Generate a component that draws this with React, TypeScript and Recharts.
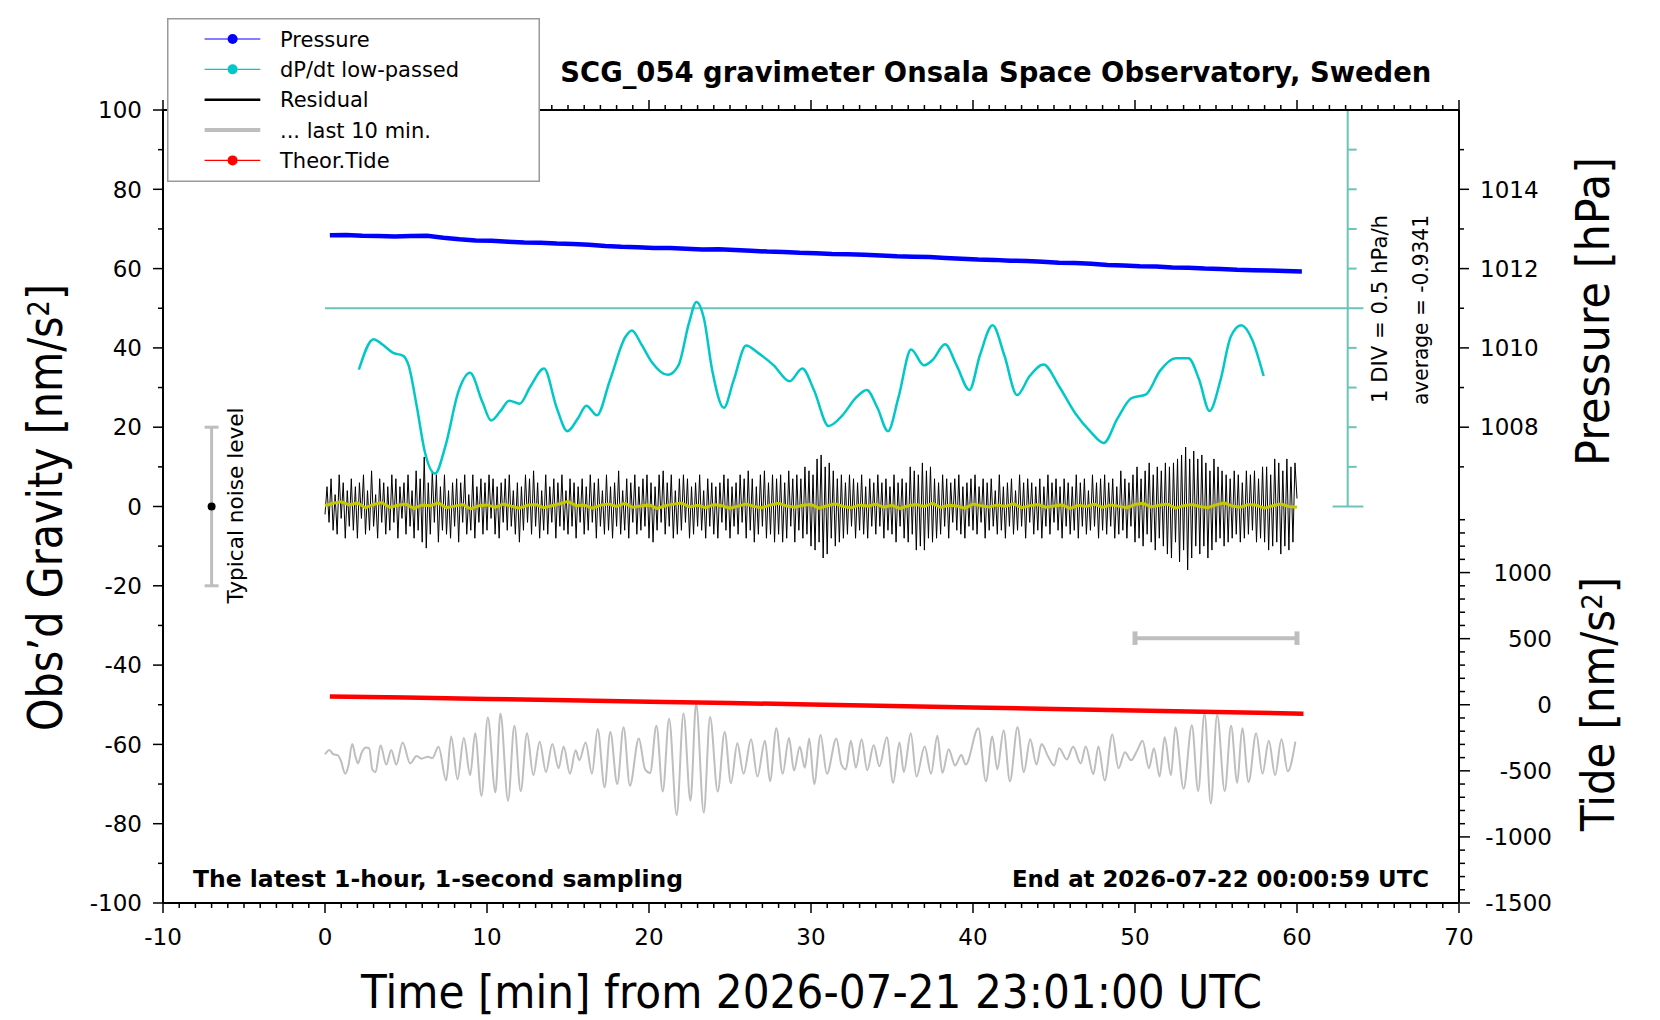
import React from "react";
import {
  LineChart,
  Line,
  XAxis,
  YAxis,
  ReferenceLine,
  ReferenceDot,
  Legend,
} from "recharts";

const FONT = '"DejaVu Sans", Verdana, sans-serif';

// axis ticks
const timeTicks = Array.from({ length: 81 }, (_, i) => i - 10);
const gravityTicks = Array.from({ length: 21 }, (_, i) => -100 + i * 10);
const pressureTicks = [1007, 1008, 1009, 1010, 1011, 1012, 1013, 1014, 1015];
const tideTicks = Array.from({ length: 30 }, (_, i) => -1500 + i * 100);

// pressure [hPa], one value per minute starting at 0.3 min
const pressureStart = 0.3;
const pressureHpa = [
  1012.84, 1012.85, 1012.83, 1012.82, 1012.81, 1012.82, 1012.83, 1012.78, 1012.74, 1012.71,
  1012.7, 1012.68, 1012.66, 1012.65, 1012.63, 1012.62, 1012.6, 1012.57, 1012.55, 1012.54,
  1012.52, 1012.52, 1012.5, 1012.48, 1012.49, 1012.47, 1012.45, 1012.43, 1012.42, 1012.4,
  1012.39, 1012.37, 1012.36, 1012.35, 1012.33, 1012.31, 1012.3, 1012.29, 1012.27, 1012.25,
  1012.23, 1012.22, 1012.2, 1012.19, 1012.17, 1012.15, 1012.14, 1012.12, 1012.09, 1012.08,
  1012.06, 1012.05, 1012.03, 1012.02, 1012.0, 1011.99, 1011.97, 1011.96, 1011.95, 1011.94,
  1011.93,
];

// theoretical tide [nm/s^2]
const tideT = [0.3, 5, 10, 15, 20, 25, 30, 35, 40, 45, 50, 55, 60.4];
const tideNms2 = [63, 54, 44, 34, 23, 13, 2, -9, -20, -32, -43, -55, -68];

// dP/dt low-passed [hPa/h]
const dpdtAverage = -0.9341;
const dpdtDiv = 0.5;
const dpdtT = [
  2.09, 3.0, 3.53, 4.18, 4.83, 5.16, 5.68, 6.14, 6.79, 7.45, 8.23, 8.95, 9.73, 10.25, 10.84,
  11.37, 12.02, 12.67, 13.52, 14.3, 14.96, 15.61, 16.13, 16.79, 17.57, 18.55, 18.94, 19.53,
  20.18, 21.16, 21.82, 22.47, 22.93, 23.38, 23.91, 24.62, 25.21, 26.0, 26.71, 27.7, 28.68,
  29.46, 30.18, 31.09, 31.94, 32.79, 33.44, 34.1, 34.75, 35.4, 36.18, 36.97, 37.49, 38.28,
  38.99, 39.78, 40.43, 41.21, 41.93, 42.72, 43.5, 44.35, 45.33, 46.31, 47.29, 48.07, 48.92,
  49.77, 50.69, 51.54, 52.51, 53.3, 53.95, 54.6, 55.26, 55.91, 56.56, 57.22, 57.94,
];
const dpdtHpaH = [
  -1.709, -1.324, -1.389, -1.494, -1.534, -1.654, -2.189, -2.724, -3.019, -2.659, -1.989,
  -1.749, -2.124, -2.349, -2.229, -2.099, -2.139, -1.924, -1.694, -2.189, -2.484, -2.324,
  -2.164, -2.284, -1.854, -1.294, -1.214, -1.389, -1.614, -1.774, -1.654, -1.119, -0.854,
  -1.054, -1.724, -2.189, -1.854, -1.404, -1.494, -1.654, -1.854, -1.694, -1.964, -2.419,
  -2.284, -2.059, -1.964, -2.189, -2.484, -2.059, -1.454, -1.654, -1.589, -1.389, -1.654,
  -1.964, -1.524, -1.149, -1.524, -2.029, -1.789, -1.644, -1.924, -2.259, -2.499, -2.634,
  -2.324, -2.069, -2.019, -1.724, -1.564, -1.564, -1.829, -2.229, -1.854, -1.294, -1.149,
  -1.324, -1.789,
];

// residual [nm/s^2], every 7.5 s (one row = 2 min)
const residualStep = 0.125;
const residual = [
  -2, 5, -4, 7, -6, 3, -7, 8, -3, 6, -8, 4, -5, 7, -6, 5,
  -8, 6, -3, 8, -7, 4, -6, 9, -5, 3, -8, 7, -4, 6, -7, 5,
  -6, 8, -4, 7, -8, 5, -3, 6, -7, 8, -5, 4, -8, 9, -6, 7,
  -9, 12.5, -10.5, 6, -7, 9, -4, 8, -9, 5, -6, 8, -7, 4, -8, 6,
  -5, 7, -9, 6, -4, 8, -7, 3, -6, 8, -8, 5, -4, 7, -7, 6,
  -6, 8, -3, 7, -7, 5, -8, 6, -4, 7, -6, 8, -5, 4, -7, 6,
  -9, 5, -6, 8, -4, 7, -7, 9, -5, 6, -8, 4, -6, 8, -7, 5,
  -4, 7, -8, 6, -5, 8, -6, 4, -7, 7, -5, 6, -8, 5, -4, 7,
  -7, 5, -6, 8, -4, 6, -8, 7, -5, 4, -7, 8, -6, 5, -8, 6,
  -5, 9, -7, 4, -6, 7, -8, 6, -4, 8, -7, 5, -6, 7, -5, 8,
  -8, 6, -9, 5, -6, 8, -4, 9, -7, 6, -5, 8, -8, 4, -7, 7,
  -6, 8, -4, 7, -8, 5, -7, 6, -5, 8, -6, 4, -8, 7, -5, 6,
  -7, 5, -8, 6, -4, 8, -6, 7, -8, 5, -5, 6, -7, 8, -4, 7,
  -8, 9, -6, 7, -9, 5, -7, 8, -5, 9, -8, 6, -7, 8, -9, 7,
  -7, 8, -9, 6, -8, 9, -5, 7, -9, 8, -6, 7, -8, 10, -7, 9,
  -10, 8, -11, 12, -9, 13, -13, 10, -12, 11, -8, 9, -10, 7, -9, 8,
  -8, 6, -7, 8, -5, 7, -8, 6, -6, 8, -7, 5, -8, 7, -5, 6,
  -7, 8, -5, 6, -8, 7, -6, 5, -7, 8, -9, 6, -5, 7, -8, 6,
  -9, 10, -7, 9, -11, 8, -10, 11, -11, 9, -8, 10, -9, 7, -8, 6,
  -7, 8, -5, 7, -8, 6, -4, 7, -6, 8, -7, 5, -8, 6, -5, 7,
  -6, 8, -7, 5, -4, 7, -8, 6, -6, 7, -5, 4, -7, 8, -6, 5,
  -8, 6, -5, 7, -7, 4, -6, 8, -5, 6, -8, 7, -4, 6, -7, 5,
  -6, 7, -8, 5, -5, 8, -7, 6, -4, 7, -6, 5, -8, 7, -5, 6,
  -7, 5, -6, 8, -8, 6, -5, 7, -7, 4, -6, 8, -5, 6, -8, 7,
  -6, 8, -7, 6, -5, 7, -8, 5, -7, 9, -6, 7, -8, 6, -5, 8,
  -9, 10, -8, 7, -10, 9, -7, 11, -9, 8, -11, 10, -8, 9, -10, 11,
  -12, 10, -13, 11, -9, 12, -14, 13, -11, 15, -16, 12, -13, 14, -10, 12,
  -12, 13, -10, 11, -13, 9, -11, 12, -9, 10, -8, 9, -10, 8, -9, 7,
  -8, 9, -7, 8, -9, 6, -8, 9, -7, 8, -6, 9, -9, 7, -8, 10,
  -9, 10, -11, 8, -10, 12, -9, 11, -12, 9, -10, 12, -11, 10, -9, 11,
  2,
];

// low-passed residual [nm/s^2], every 30 s
const filteredStep = 0.5;
const residualFiltered = [
  0.2, 0.8, 1.2, 0.4, 0.9, -0.3, 0.5, 1.0, -0.2, 0.3,
  0.6, -0.5, 0.4, 0.2, 0.9, -0.3, 0.1, 0.5, -0.6, 0.2,
  0.4, -0.2, 0.6, 0.1, -0.4, 0.3, 0.5, -0.3, 0.2, 0.7,
  1.3, 0.2, 0.4, -0.4, 0.3, 0.6, 0.0, 0.8, -0.2, 0.1,
  0.4, -0.5, 0.2, 0.6, 0.9, -0.1, 0.3, -0.3, 0.5, 0.2,
  -0.4, 0.1, 0.6, 0.0, -0.3, 0.4, 0.8, 0.1, -0.2, 0.3,
  0.5, -0.4, 0.2, 0.7, 0.0, -0.3, 0.4, 0.1, 0.6, -0.2,
  0.3, -0.5, 0.2, 0.5, 0.0, 0.8, -0.2, 0.3, 0.1, -0.4,
  0.6, 0.2, -0.1, 0.4, 0.0, 0.7, -0.3, 0.2, 0.5, -0.2,
  0.1, 0.4, -0.5, 0.3, 0.0, 0.6, -0.2, 0.4, 0.1, -0.3,
  0.5, 0.8, -0.1, 0.3, 0.6, -0.4, 0.2, 0.5, 0.0, -0.3,
  0.4, 0.9, 0.1, -0.2, 0.5, 0.3, -0.4, 0.2, 0.6, 0.0,
  -0.2,
];

// "... last 10 min." trace (offset, stretched), peaks and troughs
const lastTenT = [
  0, 0.27, 0.51, 0.78, 0.97, 1.25, 1.44, 1.68, 1.87, 2.03, 2.26, 2.53, 2.73, 2.92, 3.12, 3.43,
  3.78, 4.09, 4.4, 4.79, 5.26, 5.65, 5.96, 6.35, 6.62, 7.01, 7.48, 7.79, 8.18, 8.57, 8.96, 9.27,
  9.66, 10.05, 10.52, 10.83, 11.3, 11.69, 12.08, 12.47, 12.86, 13.25, 13.64, 14.03, 14.42,
  14.73, 15.12, 15.47, 15.7, 16.09, 16.48, 16.83, 17.26, 17.61, 18.04, 18.43, 18.82, 19.37,
  19.76, 20.07, 20.46, 20.85, 21.24, 21.71, 22.13, 22.56, 22.91, 23.38, 23.77, 24.24, 24.67,
  25.06, 25.45, 25.84, 26.3, 26.69, 27.16, 27.47, 27.86, 28.25, 28.64, 28.95, 29.31, 29.62,
  29.89, 30.2, 30.59, 30.98, 31.57, 31.88, 32.15, 32.46, 32.77, 33.12, 33.47, 33.87, 34.22,
  34.68, 35.07, 35.46, 35.73, 36.16, 36.51, 37.02, 37.41, 37.8, 38.11, 38.5, 38.89, 39.28,
  39.55, 40.33, 40.8, 41.19, 41.5, 41.89, 42.28, 42.75, 43.14, 43.53, 43.92, 44.23, 44.62,
  45.01, 45.32, 45.79, 46.18, 46.65, 46.96, 47.43, 47.74, 48.13, 48.6, 48.98, 49.38, 49.76,
  50.15, 50.47, 50.86, 51.17, 51.52, 51.83, 52.22, 52.49, 53.0, 53.51, 53.9, 54.29, 54.68,
  55.07, 55.54, 55.93, 56.31, 56.62, 57.01, 57.48, 57.87, 58.26, 58.65, 59.04, 59.43, 59.9,
];
const lastTen = [
  -62.5, -61.4, -62.5, -62.7, -64.0, -67.4, -65.5, -59.9, -62.9, -64.8, -62.1, -60.8, -61.0,
  -66.3, -67.0, -60.2, -65.1, -61.4, -65.1, -59.5, -64.8, -62.9, -63.6, -63.1, -63.5, -60.6,
  -69.1, -58.0, -68.8, -58.4, -67.8, -57.2, -73.0, -53.2, -72.1, -52.2, -74.2, -55.3, -71.8,
  -57.2, -67.8, -59.3, -67.0, -59.9, -66.0, -60.5, -67.4, -61.5, -64.0, -59.5, -67.4, -56.1,
  -70.8, -56.9, -70.0, -55.7, -70.4, -58.5, -66.3, -67.2, -55.3, -71.9, -53.5, -77.8, -52.2,
  -74.2, -49.7, -77.2, -53.1, -71.9, -56.9, -69.8, -59.7, -67.4, -58.7, -68.1, -59.1, -69.3,
  -55.9, -67.4, -58.4, -66.6, -60.6, -65.9, -58.5, -70.0, -57.6, -67.4, -58.5, -65.1, -66.3,
  -59.1, -65.9, -58.7, -66.5, -60.2, -65.5, -58.2, -69.7, -59.5, -67.0, -57.2, -68.1, -60.5,
  -67.4, -57.8, -67.2, -61.2, -65.3, -62.7, -65.1, -55.9, -69.3, -58.0, -66.3, -56.5, -69.3,
  -55.7, -67.0, -58.7, -65.1, -59.9, -62.9, -65.3, -61.0, -63.8, -60.6, -64.8, -60.5, -67.5,
  -60.5, -69.1, -57.5, -66.0, -62.0, -64.0, -61.4, -59.1, -66.0, -61.0, -68.1, -58.2, -67.8,
  -55.7, -71.2, -55.2, -71.8, -52.2, -74.9, -52.5, -71.8, -55.3, -69.7, -55.9, -69.5, -57.2,
  -67.4, -59.1, -67.8, -58.7, -66.8, -59.3,
];

const legendItems = [
  { label: "Pressure", color: "#0000FF", marker: true, width: 1.2 },
  { label: "dP/dt low-passed", color: "#00C8C8", marker: true, width: 1.2 },
  { label: "Residual", color: "#000000", marker: false, width: 2.5 },
  { label: "... last 10 min.", color: "#BEBEBE", marker: false, width: 4 },
  { label: "Theor.Tide", color: "#FF0000", marker: true, width: 1.2 },
];

const pressureData = pressureHpa.map((v, i) => ({ t: pressureStart + i, v }));
const tideData = tideT.map((t, i) => ({ t, v: tideNms2[i] }));
const dpdtData = dpdtT.map((t, i) => ({ t, v: dpdtHpaH[i] }));
const residualData = residual.map((v, i) => ({ t: i * residualStep, v }));
const filteredData = residualFiltered.map((v, i) => ({ t: i * filteredStep, v }));
const lastTenData = lastTenT.map((t, i) => ({ t, v: lastTen[i] }));

const tickText = { fontFamily: FONT, fontSize: 23, fill: "#000" };

function BottomTick({ x, y, payload }: any) {
  const major = payload.value % 10 === 0;
  return (
    <g>
      <line x1={x} x2={x} y1={y} y2={y + (major ? 10 : 5)} stroke="#000" strokeWidth={1.5} />
      {major && (
        <text x={x} y={y + 42} textAnchor="middle" {...tickText}>
          {payload.value}
        </text>
      )}
    </g>
  );
}

function TopTick({ x, y, payload }: any) {
  const major = payload.value % 10 === 0;
  return <line x1={x} x2={x} y1={y} y2={y - (major ? 10 : 5)} stroke="#000" strokeWidth={1.5} />;
}

function GravityTick({ x, y, payload }: any) {
  const major = payload.value % 20 === 0;
  return (
    <g>
      <line x1={x} x2={x - (major ? 10 : 5)} y1={y} y2={y} stroke="#000" strokeWidth={1.5} />
      {major && (
        <text x={x - 21} y={y} dy="0.36em" textAnchor="end" {...tickText}>
          {payload.value}
        </text>
      )}
    </g>
  );
}

function PressureTick({ x, y, payload }: any) {
  const major = payload.value % 2 === 0;
  return (
    <g>
      <line x1={x} x2={x + (major ? 10 : 5)} y1={y} y2={y} stroke="#000" strokeWidth={1.5} />
      {major && (
        <text x={x + 21} y={y} dy="0.36em" textAnchor="start" {...tickText}>
          {payload.value}
        </text>
      )}
    </g>
  );
}

function TideTick({ x, y, payload }: any) {
  const major = payload.value % 500 === 0;
  return (
    <g>
      <line x1={x} x2={x + (major ? 10 : 5)} y1={y} y2={y} stroke="#000" strokeWidth={1.5} />
      {major && payload.value <= 1000 && (
        <text x={x + 92} y={y} dy="0.36em" textAnchor="end" {...tickText}>
          {payload.value}
        </text>
      )}
    </g>
  );
}

function LegendBox() {
  return (
    <svg width={373} height={164} style={{ display: "block" }}>
      <rect x={0.75} y={0.75} width={371.5} height={162.5} fill="#fff" stroke="#999" strokeWidth={1.5} />
      {legendItems.map((it, i) => {
        const y = 21 + i * 30.35;
        return (
          <g key={it.label}>
            <line x1={37.6} x2={93.3} y1={y} y2={y} stroke={it.color} strokeWidth={it.width} />
            {it.marker && <circle cx={65.6} cy={y} r={5} fill={it.color} />}
            <text x={113} y={y} dy="0.36em" fontFamily={FONT} fontSize={21} fill="#000">
              {it.label}
            </text>
          </g>
        );
      })}
    </svg>
  );
}

const teal = "#6CC3BA";
const scaleX = 63.13;

export default function App() {
  const dpdtDomain = [dpdtAverage - 15 * dpdtDiv, dpdtAverage + 5 * dpdtDiv];
  const scaleTicks = Array.from({ length: 11 }, (_, i) => dpdtAverage + (i - 5) * dpdtDiv);
  const frame = { stroke: "#000", strokeWidth: 2 };

  return (
    <div style={{ position: "absolute", left: 0, top: 0, width: 1660, height: 1020, background: "#fff" }}>
      <LineChart width={1660} height={1020} margin={{ top: 109, right: 199, bottom: 116, left: 162 }}>
        <XAxis
          xAxisId="x"
          type="number"
          dataKey="t"
          domain={[-10, 70]}
          allowDataOverflow
          ticks={timeTicks}
          interval={0}
          height={1}
          tickSize={0}
          tickMargin={0}
          tickLine={false}
          axisLine={frame}
          tick={BottomTick}
        />
        <XAxis
          xAxisId="xt"
          orientation="top"
          type="number"
          dataKey="t"
          domain={[-10, 70]}
          allowDataOverflow
          ticks={timeTicks}
          interval={0}
          height={1}
          tickSize={0}
          tickMargin={0}
          tickLine={false}
          axisLine={frame}
          tick={TopTick}
        />
        <YAxis
          yAxisId="g"
          type="number"
          domain={[-100, 100]}
          allowDataOverflow
          ticks={gravityTicks}
          interval={0}
          width={1}
          tickSize={0}
          tickMargin={0}
          tickLine={false}
          axisLine={frame}
          tick={GravityTick}
        />
        <YAxis
          yAxisId="p"
          orientation="right"
          type="number"
          domain={[996, 1016]}
          allowDataOverflow
          ticks={pressureTicks}
          interval={0}
          width={1}
          tickSize={0}
          tickMargin={0}
          tickLine={false}
          axisLine={frame}
          tick={PressureTick}
        />
        <YAxis
          yAxisId="tide"
          orientation="right"
          type="number"
          domain={[-1500, 4500]}
          allowDataOverflow
          ticks={tideTicks}
          interval={0}
          width={1}
          tickSize={0}
          tickMargin={0}
          tickLine={false}
          axisLine={false}
          tick={TideTick}
        />
        <YAxis yAxisId="dpdt" hide width={0} orientation="right" type="number" domain={dpdtDomain} allowDataOverflow />

        <Legend
          layout="horizontal"
          verticalAlign="middle"
          align="center"
          wrapperStyle={{ position: "absolute", left: 166.7, top: 18.3, width: 373, height: 164, lineHeight: 0 }}
          content={() => <LegendBox />}
        />

        {/* noise level bar */}
        <ReferenceLine xAxisId="x" yAxisId="g" segment={[{ x: -7, y: -20 }, { x: -7, y: 20 }]} stroke="#BEBEBE" strokeWidth={3} />
        <ReferenceLine xAxisId="x" yAxisId="g" segment={[{ x: -7.43, y: 20 }, { x: -6.57, y: 20 }]} stroke="#BEBEBE" strokeWidth={3} />
        <ReferenceLine xAxisId="x" yAxisId="g" segment={[{ x: -7.43, y: -20 }, { x: -6.57, y: -20 }]} stroke="#BEBEBE" strokeWidth={3} />
        <ReferenceDot xAxisId="x" yAxisId="g" x={-7} y={0} r={4} fill="#000" stroke="none" />

        {/* last 10 min bar */}
        <ReferenceLine xAxisId="x" yAxisId="g" segment={[{ x: 50, y: -33.2 }, { x: 60, y: -33.2 }]} stroke="#BEBEBE" strokeWidth={4} />
        <ReferenceLine xAxisId="x" yAxisId="g" segment={[{ x: 50, y: -34.9 }, { x: 50, y: -31.5 }]} stroke="#BEBEBE" strokeWidth={5} />
        <ReferenceLine xAxisId="x" yAxisId="g" segment={[{ x: 60, y: -34.9 }, { x: 60, y: -31.5 }]} stroke="#BEBEBE" strokeWidth={5} />

        {/* dP/dt scale */}
        <ReferenceLine
          xAxisId="x"
          yAxisId="dpdt"
          segment={[{ x: scaleX, y: scaleTicks[0] }, { x: scaleX, y: scaleTicks[10] }]}
          stroke={teal}
          strokeWidth={2}
        />
        {scaleTicks.map((v, i) => (
          <ReferenceLine
            key={i}
            xAxisId="x"
            yAxisId="dpdt"
            segment={
              i === 5
                ? [{ x: 0, y: v }, { x: 64.1, y: v }]
                : i === 0 || i === 10
                ? [{ x: 62.2, y: v }, { x: 64.1, y: v }]
                : [{ x: scaleX, y: v }, { x: scaleX + 0.55, y: v }]
            }
            stroke={teal}
            strokeWidth={2}
          />
        ))}

        <Line xAxisId="x" yAxisId="g" data={lastTenData} dataKey="v" type="monotone" stroke="#BEBEBE" strokeWidth={2} dot={false} activeDot={false} isAnimationActive={false} />
        <Line xAxisId="x" yAxisId="tide" data={tideData} dataKey="v" type="linear" stroke="#FF0000" strokeWidth={4.5} dot={false} activeDot={false} isAnimationActive={false} />
        <Line xAxisId="x" yAxisId="g" data={residualData} dataKey="v" type="linear" stroke="#000" strokeWidth={1} dot={false} activeDot={false} isAnimationActive={false} />
        <Line xAxisId="x" yAxisId="g" data={filteredData} dataKey="v" type="linear" stroke="#C8C800" strokeWidth={3} dot={false} activeDot={false} isAnimationActive={false} />
        <Line xAxisId="x" yAxisId="p" data={pressureData} dataKey="v" type="linear" stroke="#0000FF" strokeWidth={4.5} dot={false} activeDot={false} isAnimationActive={false} />
        <Line xAxisId="x" yAxisId="dpdt" data={dpdtData} dataKey="v" type="monotone" stroke="#00C8C8" strokeWidth={2.5} dot={false} activeDot={false} isAnimationActive={false} />
      </LineChart>

      <svg width={1660} height={1020} style={{ position: "absolute", left: 0, top: 0, pointerEvents: "none" }}>
        <g fontFamily={FONT} fill="#000">
          <text x={995.8} y={81.5} textAnchor="middle" fontWeight="bold" fontSize={28} textLength={871} lengthAdjust="spacingAndGlyphs">
            SCG_054 gravimeter Onsala Space Observatory, Sweden
          </text>
          <text x={193} y={887} fontWeight="bold" fontSize={23} textLength={490} lengthAdjust="spacingAndGlyphs">
            The latest 1-hour, 1-second sampling
          </text>
          <text x={1429} y={887} textAnchor="end" fontWeight="bold" fontSize={23} textLength={417} lengthAdjust="spacingAndGlyphs">
            End at 2026-07-22 00:00:59 UTC
          </text>
          <text x={811.5} y={1008} textAnchor="middle" fontSize={46} textLength={901} lengthAdjust="spacingAndGlyphs">
            Time [min] from 2026-07-21 23:01:00 UTC
          </text>
          <text transform="translate(61.7 507.5) rotate(-90)" textAnchor="middle" fontSize={48} textLength={447} lengthAdjust="spacingAndGlyphs">
            Obs’d Gravity [nm/s<tspan dy="-0.42em" fontSize="0.62em">2</tspan><tspan dy="0.26em">]</tspan>
          </text>
          <text transform="translate(1609 311.5) rotate(-90)" textAnchor="middle" fontSize={46} textLength={309} lengthAdjust="spacingAndGlyphs">
            Pressure [hPa]
          </text>
          <text transform="translate(1614 704) rotate(-90)" textAnchor="middle" fontSize={46} textLength={254} lengthAdjust="spacingAndGlyphs">
            Tide [nm/s<tspan dy="-0.42em" fontSize="0.62em">2</tspan><tspan dy="0.26em">]</tspan>
          </text>
          <text transform="translate(242.7 505.5) rotate(-90)" textAnchor="middle" fontSize={21} textLength={196} lengthAdjust="spacingAndGlyphs">
            Typical noise level
          </text>
          <text transform="translate(1386.7 309) rotate(-90)" textAnchor="middle" fontSize={21} textLength={188} lengthAdjust="spacingAndGlyphs">
            1 DIV = 0.5 hPa/h
          </text>
          <text transform="translate(1428 310) rotate(-90)" textAnchor="middle" fontSize={21} textLength={190} lengthAdjust="spacingAndGlyphs">
            average = -0.9341
          </text>
        </g>
      </svg>
    </div>
  );
}
